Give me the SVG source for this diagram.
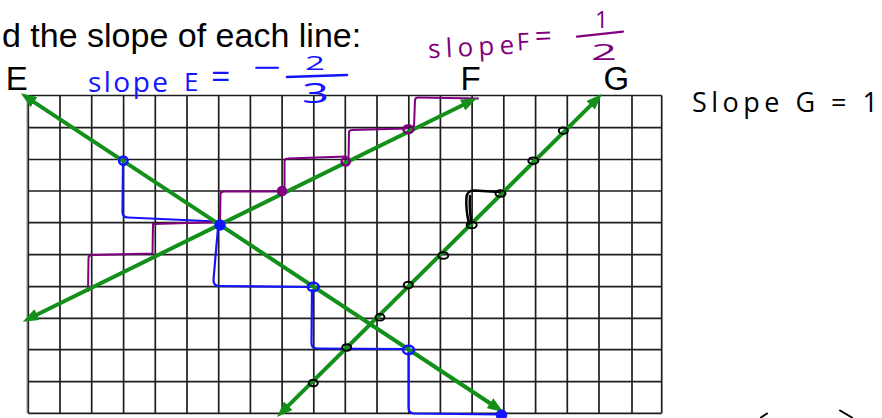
<svg xmlns="http://www.w3.org/2000/svg" width="882" height="418" viewBox="0 0 882 418">
<style>
.title{font-family:"Liberation Sans",Arial,sans-serif;fill:#000}
.hand{font-family:"Open Sans","Noto Sans",sans-serif}
.blue{fill:#1414ff}
.purp{fill:#800080}
.blk{fill:#000}
.grid{stroke:#1e1e1e;stroke-width:1.7;fill:none}
.gl{stroke:#12901a;stroke-width:4;fill:none;marker-start:url(#ah);marker-end:url(#ah)}
.bs{stroke:#1414ff;stroke-width:2.2;fill:none;stroke-linejoin:round;stroke-linecap:round}
.ps{stroke:#800080;stroke-width:2;fill:none;stroke-linejoin:round;stroke-linecap:round}
.ks{stroke:#000;stroke-width:2;fill:none;stroke-linejoin:round;stroke-linecap:round}
</style>
<defs>
<marker id="ah" viewBox="0 0 16 12" refX="6" refY="6" markerWidth="16" markerHeight="12" markerUnits="userSpaceOnUse" orient="auto-start-reverse">
<path d="M0,0 L16,6 L0,12 z" fill="#12901a"/>
</marker>
</defs>
<rect width="882" height="418" fill="#fff"/>

<g id="title">
<text class="title" x="2" y="47" font-size="34">d the slope of each line:</text>
</g>

<g id="grid">
<line x1="26.8" y1="95.5" x2="26.8" y2="413.3" stroke="#bbb" stroke-width="1.2"/>
<path class="grid" d="M28.3,95.5V413.3 M60,95.5V413.3 M91.7,95.5V413.3 M123.6,95.5V413.3 M155.3,95.5V413.3 M187,95.5V413.3 M218.7,95.5V413.3 M250.4,95.5V413.3 M282.1,95.5V413.3 M313.8,95.5V413.3 M345.3,95.5V413.3 M377,95.5V413.3 M408.8,95.5V413.3 M440.4,95.5V413.3 M472.1,95.5V413.3 M503.8,95.5V413.3 M535.6,95.5V413.3 M567.3,95.5V413.3 M599,95.5V413.3 M632,95.5V413.3 M661.7,95.5V413.3
M28.3,95.5H661.7 M28.3,127.7H661.7 M28.3,159.5H661.7 M28.3,191H661.7 M28.3,222.7H661.7 M28.3,254.7H661.7 M28.3,286.7H661.7 M28.3,318.3H661.7 M28.3,349.7H661.7 M28.3,381.7H661.7 M28.3,413.3H661.7"/>
</g>

<g id="annot-blue">
<path class="bs" d="M123,163 L122.5,212 Q122.5,217.5 128,217.5 L217,221.5
M218,228 L215,262 L213.5,280 Q213.5,286 219,286 L310,287
M312,290 L311.5,343 Q311.5,348.5 317,348.5 L405,349
M408.5,352 L408.5,408 Q408.5,413 414,413.5 L499,414.5"/>
</g>

<g id="annot-purple">
<path class="ps" d="M88,291 L88.5,258 Q88.5,255 92,255 L152.5,253.5 L153,224 L222,222
M220,223 L220.5,194 Q221,191.5 224,191.5 L281,191.5
M284.5,189 L284.5,161 Q285,158.5 288,158.5 L346,156.5
M348.5,160 L349,132 Q349.5,130 352,130 L407,128.5
M414,127 L415,100 Q415.5,97.5 418,97.5 L478,98.5"/>
</g>

<g id="connectors">
<path id="lineE" class="gl" d="M29.05,98.81 L494.95,406.49"/>
<path id="lineF" class="gl" d="M31.67,317.28 L468.03,102.42"/>
<path id="lineG" class="gl" d="M284.09,409.95 L594.91,101.05"/>
</g>

<g id="points-blue" stroke="#1414ff" stroke-width="2.5" fill="none">
<circle cx="123.3" cy="160.7" r="4.2"/>
<circle cx="220" cy="225" r="4.5" fill="#1414ff"/>
<ellipse cx="313.3" cy="287" rx="5.5" ry="4.2"/>
<ellipse cx="408.5" cy="350" rx="5.5" ry="4.2"/>
<circle cx="501.5" cy="415" r="4.5" fill="#1414ff"/>
</g>

<g id="points-purple" stroke="#800080" stroke-width="2.5" fill="none">
<circle cx="282" cy="191" r="4" fill="#800080"/>
<circle cx="345.7" cy="161.5" r="4"/>
<ellipse cx="408.3" cy="129.3" rx="5" ry="3.8"/>
</g>

<g id="points-black" class="ks">
<ellipse cx="313.3" cy="383" rx="4.5" ry="3.3"/>
<ellipse cx="346.7" cy="347.5" rx="4.5" ry="3.3"/>
<ellipse cx="380" cy="317.3" rx="4.5" ry="3.3"/>
<ellipse cx="408.3" cy="285" rx="4.5" ry="3.3"/>
<ellipse cx="443.3" cy="255.5" rx="5" ry="3.3"/>
<ellipse cx="471.7" cy="225" rx="5" ry="3.3"/>
<ellipse cx="500.5" cy="193.5" rx="5" ry="3.3"/>
<ellipse cx="533.3" cy="160.7" rx="5" ry="3.3"/>
<ellipse cx="563.3" cy="130.7" rx="4.5" ry="3.3"/>
<path stroke-width="2.5" d="M469,224 Q465.5,208 466.5,197 Q467.5,190.5 474,190.5 L500,192 M471.5,223 Q469,207 470,196"/>
</g>

<g id="labels">
<text class="title" x="5.7" y="90" font-size="33">E</text>
<text class="title" x="460.6" y="90" font-size="33">F</text>
<text class="title" x="603.4" y="90" font-size="33">G</text>
</g>

<g id="slopeE" class="hand blue">
<text font-size="28"><tspan x="88" y="92" textLength="80" lengthAdjust="spacing">slope</tspan><tspan x="184" y="91" font-size="26">E</tspan><tspan x="211" y="89" font-size="34">=</tspan></text>
<text x="254" y="74" font-size="18" textLength="26" lengthAdjust="spacingAndGlyphs" stroke="#1414ff" stroke-width="0.8">−</text>
<text x="305" y="70" font-size="20" textLength="20" lengthAdjust="spacingAndGlyphs">2</text>
<text x="302" y="103" font-size="27" textLength="27" lengthAdjust="spacingAndGlyphs">3</text>
<line x1="287" y1="77" x2="347" y2="75" stroke="#1414ff" stroke-width="2.5" stroke-linecap="round"/>
</g>

<g id="slopeF" class="hand purp">
<text font-size="26" transform="rotate(-3 490 45)"><tspan x="428" y="55" textLength="86" lengthAdjust="spacing">slope</tspan><tspan x="517" y="52" font-size="24">F</tspan><tspan x="535" y="49" font-size="30">=</tspan></text>
<text x="595" y="28" font-size="23">1</text>
<text x="591" y="60" font-size="22" textLength="26" lengthAdjust="spacingAndGlyphs">2</text>
<line x1="577" y1="36.7" x2="623" y2="31.7" stroke="#800080" stroke-width="2.2" stroke-linecap="round"/>
</g>

<g id="slopeG" class="hand blk">
<text x="692" y="112" font-size="27" textLength="186" lengthAdjust="spacing">Slope G = 1</text>
</g>

<g id="fragments" class="ks">
<path d="M761,417.5 L767,413.5"/>
<path d="M840,410.5 L852,417.5"/>
</g>
</svg>
